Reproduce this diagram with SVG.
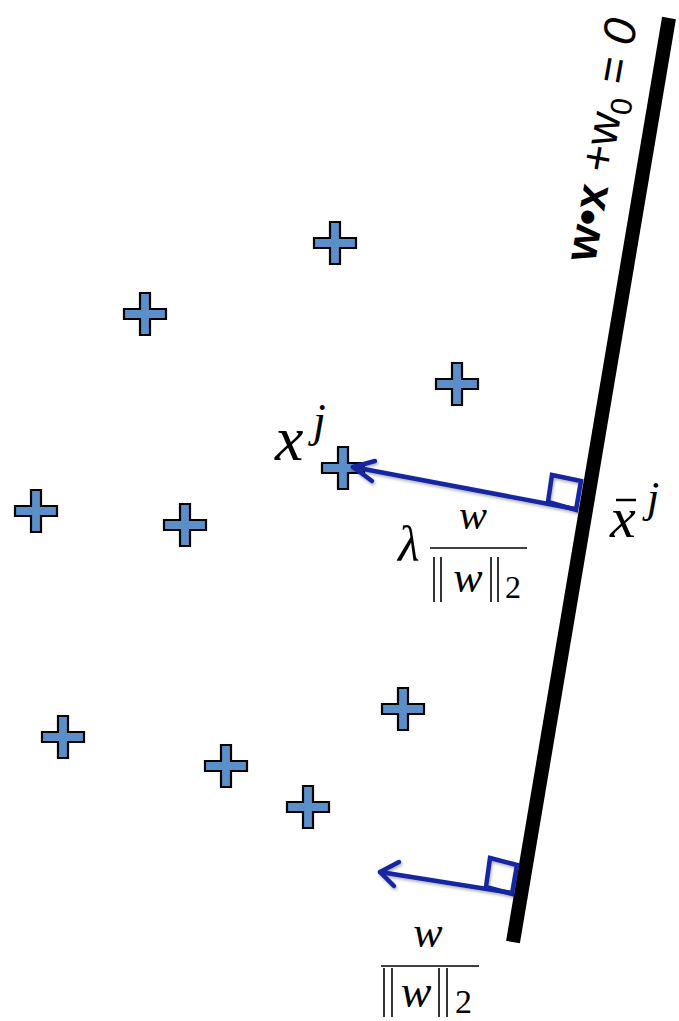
<svg xmlns="http://www.w3.org/2000/svg" width="679" height="1021" viewBox="0 0 679 1021">
<style>
.plus{fill:#5b8fc9;stroke:#000;stroke-width:2.2;stroke-linejoin:miter}
.arr{fill:none;stroke:#1526a0;stroke-width:4.5;stroke-linecap:round;stroke-linejoin:round}
.sq{fill:none;stroke:#1526a0;stroke-width:4.5}
.m{font-family:"Liberation Serif","DejaVu Serif",serif;font-style:italic;fill:#000}
.r{font-family:"Liberation Serif","DejaVu Serif",serif;fill:#000}
.lab{font-family:"Liberation Sans",Arial,sans-serif;fill:#000}
.bar{stroke:#000;stroke-width:1.6}
</style>
<defs>
<path id="p" d="M-5,-21 h10 v16 h16 v10 h-16 v16 h-10 v-16 h-16 v-10 h16 z"/>
<filter id="sh" x="-10%" y="-30%" width="130%" height="170%">
<feDropShadow dx="1" dy="2" stdDeviation="1.5" flood-color="#000" flood-opacity="0.3"/>
</filter>
</defs>
<g id="boundary">
<line x1="669" y1="18" x2="513" y2="942" stroke="#000" stroke-width="14"/>
<text class="lab" font-size="46" transform="translate(595,263) rotate(-80)"><tspan font-weight="bold">w•x</tspan> +w<tspan font-size="30" dy="9">0</tspan><tspan dy="-9"> = </tspan><tspan font-style="italic">0</tspan></text>
</g>
<g id="points">
<use href="#p" class="plus" x="335" y="243"/>
<use href="#p" class="plus" x="145" y="314"/>
<use href="#p" class="plus" x="457" y="384"/>
<use href="#p" class="plus" x="343" y="468"/>
<use href="#p" class="plus" x="36" y="511"/>
<use href="#p" class="plus" x="185" y="525"/>
<use href="#p" class="plus" x="63" y="737"/>
<use href="#p" class="plus" x="403" y="709"/>
<use href="#p" class="plus" x="226" y="766"/>
<use href="#p" class="plus" x="308" y="807"/>
</g>
<g id="connectors" filter="url(#sh)">
<polyline class="arr" points="575,509 353,467"/>
<polyline class="arr" points="375,461 353,467 372,481"/>
<polygon class="sq" points="552,475 581,481 576,510 548,502"/>
<polyline class="arr" points="512,893 380,872"/>
<polyline class="arr" points="399,862 380,872 394,886"/>
<polygon class="sq" points="490,858 517,865 512,894 486,887"/>
</g>
<g id="labels">
<text class="m" x="275" y="460" font-size="64">x</text>
<text class="m" x="313" y="436" font-size="46">j</text>
<text class="m" x="610" y="537" font-size="58">x</text>
<line x1="616" y1="500" x2="636" y2="500" stroke="#000" stroke-width="2.5"/>
<text class="m" x="647" y="512" font-size="44">j</text>
<text class="m" x="398" y="561" font-size="50">λ</text>
<text class="m" x="473" y="529" font-size="42" text-anchor="middle">w</text>
<line x1="430" y1="548" x2="527" y2="548" stroke="#000" stroke-width="1.6"/>
<line class="bar" x1="434" y1="557" x2="434" y2="602"/><line class="bar" x1="441" y1="557" x2="441" y2="602"/>
<text class="m" x="468" y="592" font-size="44" text-anchor="middle">w</text>
<line class="bar" x1="491" y1="557" x2="491" y2="602"/><line class="bar" x1="498" y1="557" x2="498" y2="602"/>
<text class="r" x="505" y="598" font-size="32">2</text>
<text class="m" x="428" y="947" font-size="44" text-anchor="middle">w</text>
<line x1="381" y1="966" x2="479" y2="966" stroke="#000" stroke-width="1.6"/>
<line class="bar" x1="384" y1="968" x2="384" y2="1017"/><line class="bar" x1="392" y1="968" x2="392" y2="1017"/>
<text class="m" x="416" y="1007" font-size="46" text-anchor="middle">w</text>
<line class="bar" x1="439" y1="968" x2="439" y2="1017"/><line class="bar" x1="447" y1="968" x2="447" y2="1017"/>
<text class="r" x="455" y="1013" font-size="34">2</text>
</g>
</svg>
